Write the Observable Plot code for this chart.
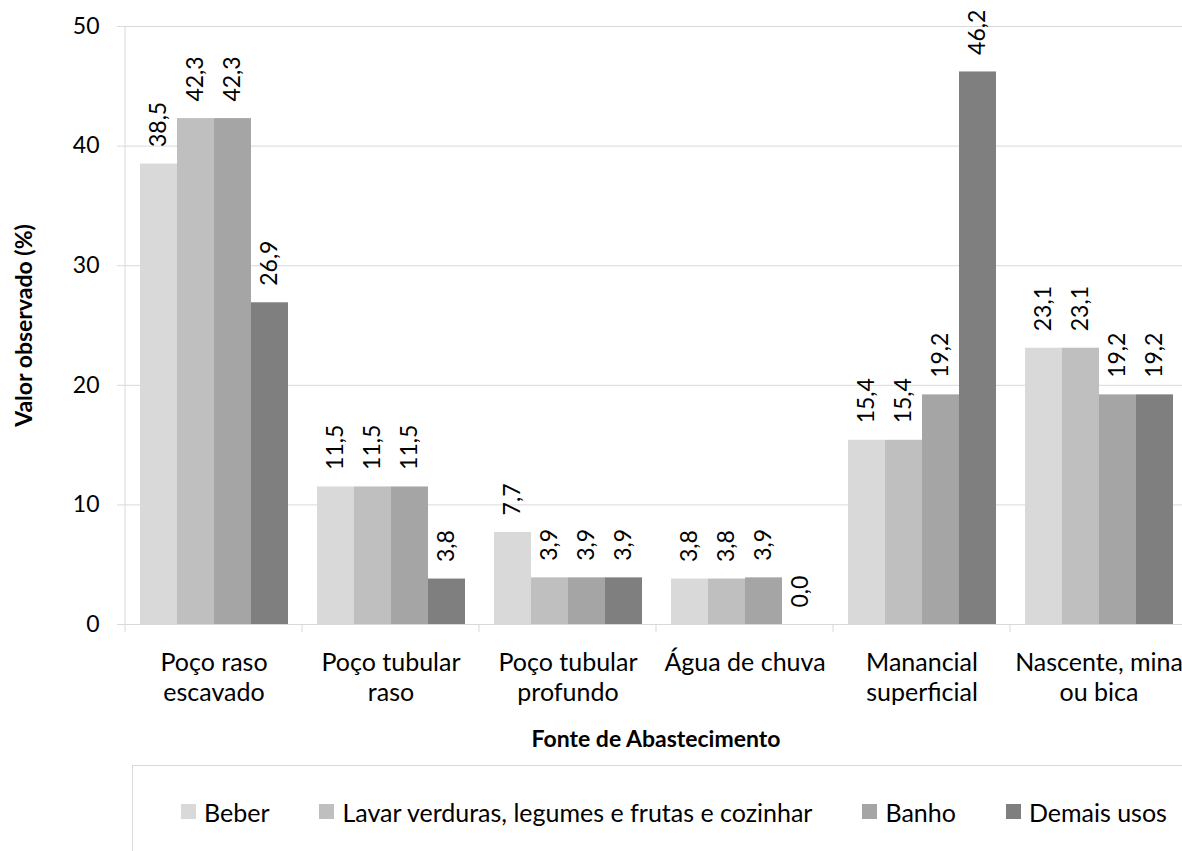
<!DOCTYPE html>
<html><head><meta charset="utf-8">
<script src="https://cdn.jsdelivr.net/npm/d3@7"></script>
<script src="https://cdn.jsdelivr.net/npm/@observablehq/plot@0.6"></script>
<style>
html,body{margin:0;padding:0;background:#fff;overflow:hidden;width:1182px;height:851px;}
#wrap{position:relative;width:1190px;height:851px;font-family:Lato,sans-serif;color:#000;}
#chart svg{display:block;}
g[aria-label="y-axis label"] text{font-weight:bold;}
#xtitle{position:absolute;left:125px;width:1062px;top:724px;text-align:center;font-weight:bold;font-size:23px;line-height:28px;}
#legend{position:absolute;left:132px;top:765px;width:1100px;height:110px;border:1px solid #d9d9d9;box-sizing:border-box;}
#legend .row{display:flex;align-items:center;height:91px;padding-left:48px;gap:50px;}
#legend .item{display:flex;align-items:center;font-size:25px;white-space:nowrap;}
#legend .sw{width:15px;height:15px;margin-right:8px;}
</style>
</head><body>
<div id="wrap">
  <div id="chart"></div>
  <div id="xtitle">Fonte de Abastecimento</div>
  <div id="legend"><div class="row"></div></div>
</div>
<script>
const categories = ["Poço raso\nescavado", "Poço tubular\nraso", "Poço tubular\nprofundo", "Água de chuva", "Manancial\nsuperficial", "Nascente, mina\nou bica"];
const series = ["Beber", "Lavar verduras, legumes e frutas e cozinhar", "Banho", "Demais usos"];
const beber  = [38.5, 11.5, 7.7, 3.8, 15.4, 23.1];
const lavar  = [42.3, 11.5, 3.9, 3.8, 15.4, 23.1];
const banho  = [42.3, 11.5, 3.9, 3.9, 19.2, 19.2];
const demais = [26.9, 3.8, 3.9, 0.0, 46.2, 19.2];
const colors = ["#d9d9d9", "#bfbfbf", "#a5a5a5", "#7f7f7f"];
const yTicks = [0, 10, 20, 30, 40, 50];

const seriesValues = [beber, lavar, banho, demais];
const data = [];
categories.forEach((c, i) => series.forEach((s, j) => data.push({cat: c, serie: s, value: seriesValues[j][i]})));
const fmt = v => v.toFixed(1).replace(".", ",");

const plot = Plot.plot({
  width: 1190, height: 714,
  marginLeft: 125, marginRight: 3, marginTop: 26, marginBottom: 90,
  style: {fontFamily: "Lato, sans-serif", color: "#000", background: "transparent"},
  fx: {domain: categories, padding: 0, label: null},
  x: {domain: series, paddingInner: 0, paddingOuter: 0.344, axis: null},
  y: {domain: [0, 50], label: null},
  color: {domain: series, range: colors},
  marks: [
    Plot.gridY(yTicks.slice(1), {stroke: "#d9d9d9", strokeOpacity: 1}),
    Plot.ruleY([0], {stroke: "#d9d9d9"}),
    Plot.barY(data, {fx: "cat", x: "serie", y: "value", fill: "serie"}),
    Plot.text(data, {fx: "cat", x: "serie", y: "value", text: d => fmt(d.value), rotate: -90, textAnchor: "start", lineAnchor: "middle", dy: -17, fontSize: 23, fill: "#000"}),
    Plot.axisY(yTicks, {anchor: "left", tickSize: 8, tickPadding: 18, stroke: "#d9d9d9", strokeOpacity: 1, fill: "#000", fontSize: 23, label: "Valor observado (%)", labelAnchor: "center", labelArrow: "none", labelOffset: 110, tickFormat: d => String(d)}),
    Plot.axisFx({anchor: "bottom", tickSize: 0, tickPadding: 25, fontSize: 25, lineHeight: 1.2, label: null})
  ]
});
document.getElementById("chart").appendChild(plot);

// axis line and category boundary ticks from the plot's own scales
const fxs = plot.scale("fx"), ys = plot.scale("y");
const y0 = ys.apply(0), y50 = ys.apply(50);
const bounds = categories.map(c => fxs.apply(c));
bounds.push(fxs.apply(categories[categories.length - 1]) + fxs.bandwidth);
const g = d3.select(plot).append("g").attr("stroke", "#d9d9d9").attr("stroke-width", 1);
g.append("line").attr("x1", bounds[0]).attr("x2", bounds[0]).attr("y1", y50).attr("y2", y0);
bounds.forEach(b => g.append("line").attr("x1", b).attr("x2", b).attr("y1", y0).attr("y2", y0 + 8));

const row = d3.select("#legend .row");
series.forEach((s, j) => {
  const it = row.append("div").attr("class", "item");
  it.append("div").attr("class", "sw").style("background", colors[j]);
  it.append("span").text(s);
});
</script>
</body></html>
